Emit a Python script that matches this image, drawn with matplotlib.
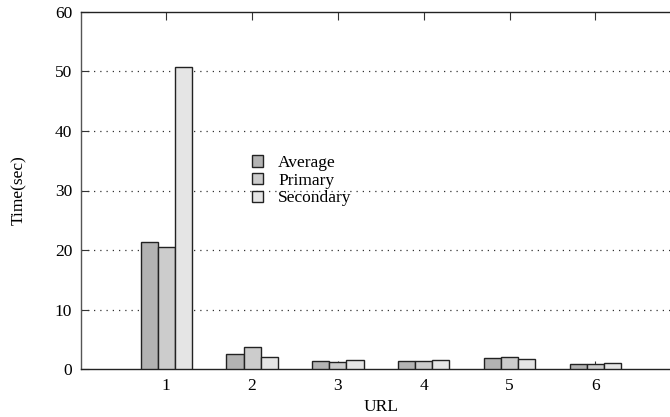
import matplotlib
matplotlib.use("Agg")
import matplotlib.pyplot as plt
import numpy as np

plt.rcParams['font.family'] = ['Liberation Serif', 'DejaVu Serif']

urls = ["1", "2", "3", "4", "5", "6"]
average = [21.4, 2.5, 1.35, 1.45, 1.85, 0.95]
primary = [20.5, 3.75, 1.2, 1.35, 2.05, 0.85]
secondary = [50.7, 2.1, 1.55, 1.55, 1.7, 1.1]
series_names = ["Average", "Primary", "Secondary"]
colors = ["#b3b3b3", "#cccccc", "#e5e5e5"]

FS = 12.5

fig = plt.figure(figsize=(6.7, 4.17), dpi=100)
ax = fig.add_axes([80.5/670, 47.7/417, 600.6/670, 357.6/417])

x = np.arange(1, len(urls) + 1)
w = 0.2
for i, (vals, name, c) in enumerate(zip([average, primary, secondary], series_names, colors)):
    ax.bar(x + (i - 1) * w, vals, width=w, color=c, edgecolor="#222222",
           linewidth=1.0, label=name, zorder=3)

ax.set_xlim(0, 7)
ax.set_ylim(0, 60)
ax.set_xticks(x)
ax.set_xticklabels(urls)
ax.set_yticks([0, 10, 20, 30, 40, 50, 60])
ax.tick_params(axis='both', direction='in', length=6, width=0.8, labelsize=FS,
               top=True, right=True, color='#333333')
ax.tick_params(axis='x', pad=6)
ax.tick_params(axis='y', pad=6)
for y in [10, 20, 30, 40, 50]:
    ax.axhline(y, color='#333333', linestyle=(0, (1, 4)), linewidth=0.9, zorder=1)
for s in ['left', 'bottom', 'top']:
    ax.spines[s].set_linewidth(1.0)
    ax.spines[s].set_color('#222222')
ax.spines['left'].set_color('#555555')
ax.spines['right'].set_visible(False)

ax.set_xlabel("URL", fontsize=FS, labelpad=4)
ax.set_ylabel("Time(sec)", fontsize=FS, labelpad=20)

leg = ax.legend(loc='upper left', bbox_to_anchor=((251.7-80.5)/600.6, (369.3-155)/357.6),
                frameon=False, fontsize=FS, handlelength=0.67, handleheight=0.63,
                labelspacing=0.1, handletextpad=0.85, borderpad=0, borderaxespad=0)

fig.savefig("out.png", dpi=100)
